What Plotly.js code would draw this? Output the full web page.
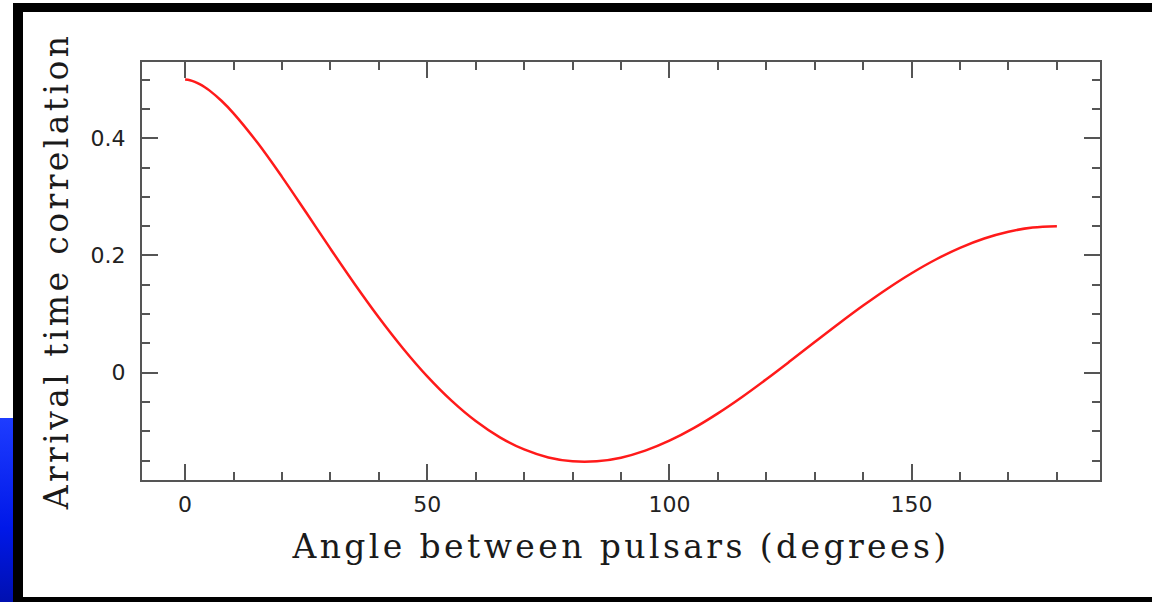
<!DOCTYPE html>
<html>
<head>
<meta charset="utf-8">
<script src="https://cdn.plot.ly/plotly-3.0.1.min.js"></script>
<style>
  html, body { margin: 0; padding: 0; background: #ffffff; }
  #wrap { position: relative; width: 1152px; height: 602px; overflow: hidden; background: #ffffff; }
  #chart { position: absolute; left: 0; top: 0; width: 1152px; height: 602px; }
  .bar { position: absolute; background: #000; pointer-events: none; }
  #blue { position: absolute; left: 0; top: 418px; width: 14px; height: 184px;
          background: linear-gradient(180deg, #1e3cff 0%, #0018e8 60%, #0010b0 100%); pointer-events: none; }
  #chart .xtitle, #chart .ytitle { letter-spacing: 3.4px; }
</style>
</head>
<body>
<div id="wrap">
  <div id="chart"></div>
  <div id="blue"></div>
  <div class="bar" style="left:13px; top:3px; width:1139px; height:9px;"></div>
  <div class="bar" style="left:13px; top:3px; width:10px; height:599px;"></div>
  <div class="bar" style="left:13px; top:597px; width:1139px; height:5px;"></div>
</div>
<script>
// Angle between pulsars (degrees)
const angleDeg = [0, 1, 2, 3, 4, 5, 7.5, 10, 15, 20, 25, 30, 35, 40, 45, 50, 55, 60, 65, 70, 75, 80, 85, 90,
                  95, 100, 105, 110, 115, 120, 125, 130, 135, 140, 145, 150, 155, 160, 165, 170, 175, 180];
// Arrival time correlation
const correlation = [0.5000, 0.4989, 0.4962, 0.4923, 0.4874, 0.4816, 0.4639, 0.4425, 0.3917, 0.3341,
                     0.2732, 0.2116, 0.1514, 0.0942, 0.0414,
                     -0.0062, -0.0476, -0.0824, -0.1102, -0.1309, -0.1445, -0.1511, -0.1511, -0.1449,
                     -0.1329, -0.1159, -0.0945, -0.0693, -0.0413, -0.0111, 0.0203, 0.0522, 0.0839,
                     0.1145, 0.1433, 0.1697, 0.1931, 0.2130, 0.2289, 0.2405, 0.2476, 0.2500];
const xTickVals = [0, 50, 100, 150];
const xTickText = ['0', '50', '100', '150'];
const yTickVals = [0, 0.2, 0.4];
const yTickText = ['0', '0.2', '0.4'];

const axisColor = '#555555';
const tickFont = {family: 'DejaVu Sans, sans-serif', size: 22, color: '#222222'};
const titleFont = {family: 'DejaVu Serif, serif', size: 33, color: '#1a1a1a'};

const trace = {
  x: angleDeg,
  y: correlation,
  type: 'scatter',
  mode: 'lines',
  line: {color: '#ff1a1a', width: 2.5, shape: 'spline', smoothing: 1},
  hoverinfo: 'skip'
};

const layout = {
  width: 1152,
  height: 602,
  margin: {l: 142, r: 52, t: 62, b: 122},
  paper_bgcolor: 'rgba(0,0,0,0)',
  plot_bgcolor: '#ffffff',
  showlegend: false,
  xaxis: {
    range: [-8.9, 188.9],
    tickmode: 'array',
    tickvals: xTickVals,
    ticktext: xTickText,
    ticks: 'inside',
    ticklen: 16,
    tickwidth: 2,
    tickcolor: axisColor,
    minor: {dtick: 10, tick0: 0, ticks: 'inside', ticklen: 8, tickwidth: 2, tickcolor: axisColor, showgrid: false},
    showline: true,
    linecolor: axisColor,
    linewidth: 2,
    mirror: 'allticks',
    showgrid: false,
    zeroline: false,
    tickfont: tickFont,
    ticklabelstandoff: 4,
    title: {text: 'Angle between pulsars (degrees)', font: titleFont, standoff: 18},
    automargin: false,
    fixedrange: true
  },
  yaxis: {
    range: [-0.183, 0.530],
    tickmode: 'array',
    tickvals: yTickVals,
    ticktext: yTickText,
    ticks: 'inside',
    ticklen: 16,
    tickwidth: 2,
    tickcolor: axisColor,
    minor: {dtick: 0.05, tick0: 0, ticks: 'inside', ticklen: 8, tickwidth: 2, tickcolor: axisColor, showgrid: false},
    showline: true,
    linecolor: axisColor,
    linewidth: 2,
    mirror: 'allticks',
    showgrid: false,
    zeroline: false,
    tickfont: tickFont,
    ticklabelstandoff: 10,
    title: {text: 'Arrival time correlation', font: titleFont, standoff: 12},
    automargin: false,
    fixedrange: true
  }
};

Plotly.newPlot('chart', [trace], layout, {displayModeBar: false, staticPlot: true});
</script>
</body>
</html>
